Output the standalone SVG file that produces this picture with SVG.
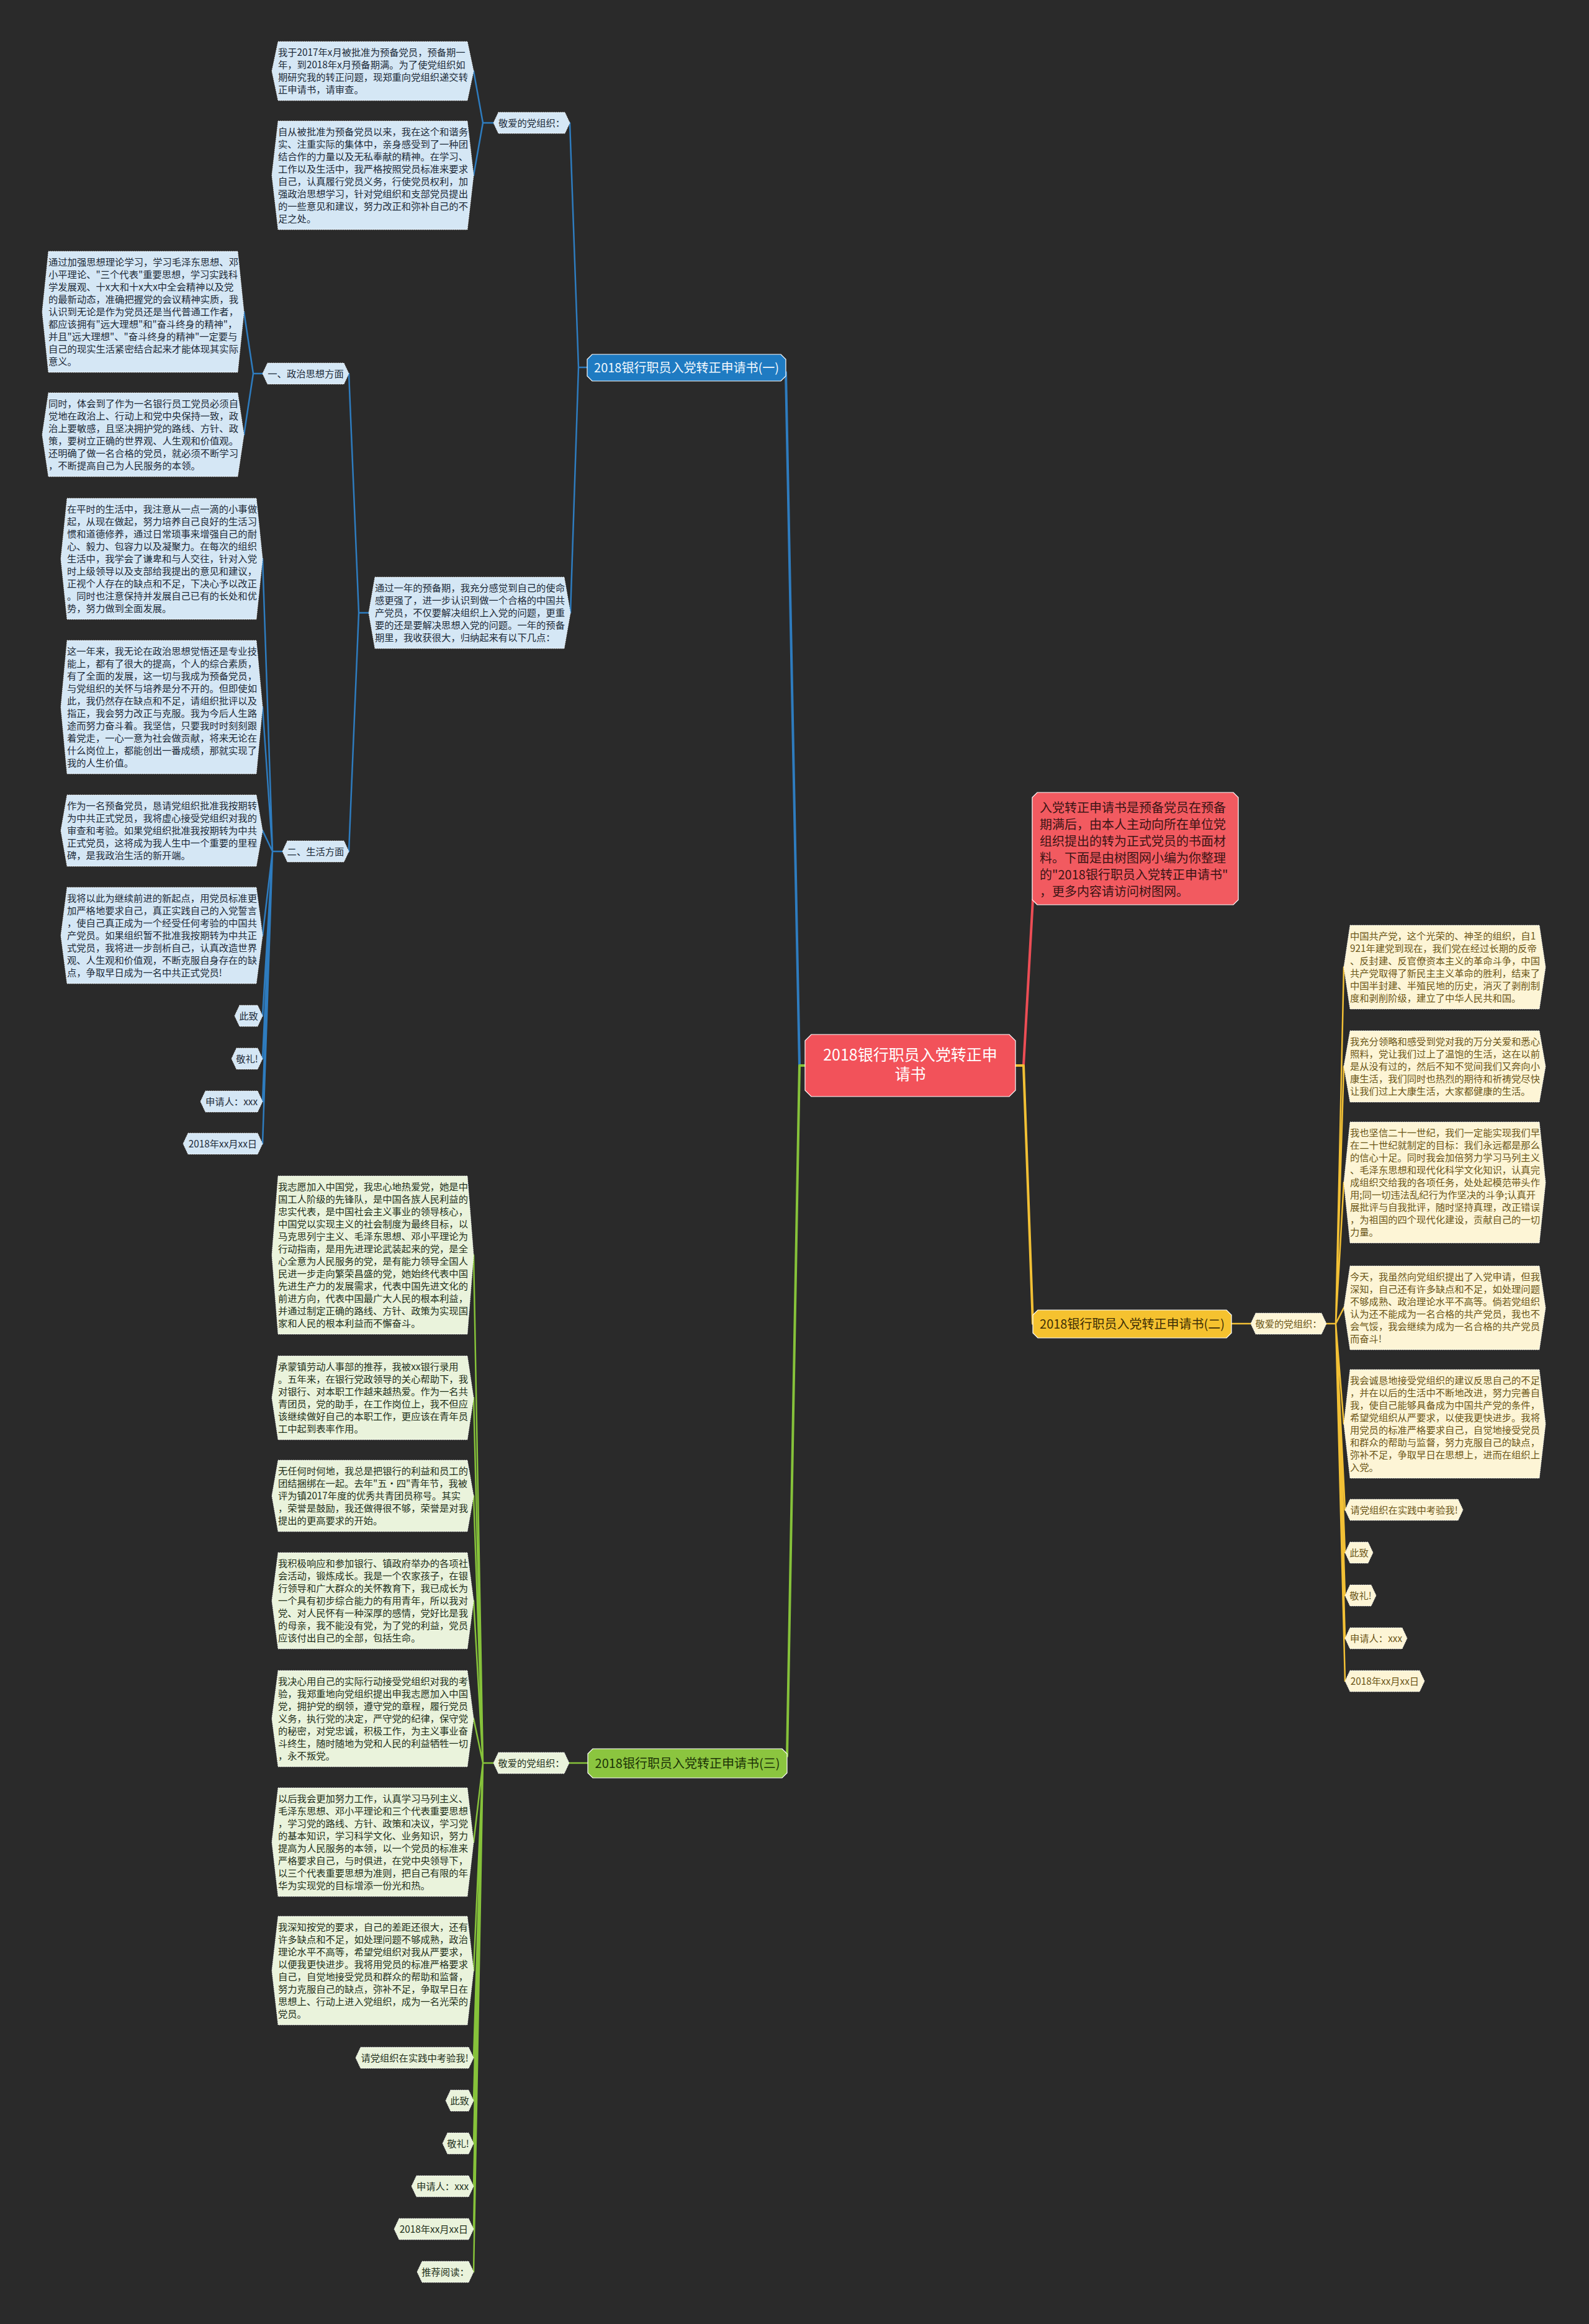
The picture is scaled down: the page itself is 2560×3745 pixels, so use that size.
<svg xmlns="http://www.w3.org/2000/svg" width="2560" height="3745" viewBox="0 0 2560 3745">
<style>
text{font-family:"Noto Sans CJK SC","Noto Sans",sans-serif;}
.t{font-size:15.3px;}
.c{text-anchor:middle;}
.nb{fill:#d5e7f5;stroke:#ffffff;stroke-width:1;stroke-dasharray:1.5 1.5;}
.ny{fill:#fdf5d6;stroke:#ffffff;stroke-width:1;stroke-dasharray:1.5 1.5;}
.ng{fill:#eaf3dc;stroke:#ffffff;stroke-width:1;stroke-dasharray:1.5 1.5;}
.tb{fill:#1c2a38;}
.ty{fill:#6b5516;}
.tg{fill:#22301a;}
.cb,.cy,.cg,.cr{fill:none;stroke-width:2.5;stroke-linejoin:round;stroke-linecap:round;}
.cb{stroke:#2e7cbf;}
.cy{stroke:#f2c035;}
.cg{stroke:#86c23a;}
.cr{stroke:#ec4d55;}
.main{stroke-width:4;}
.br{stroke:#ffffff;stroke-width:1.2;}
</style>
<rect x="0" y="0" width="2560" height="3745" fill="#2a2a2a"/>

<g id="connectors">
<path class="cb main" d="M1297,1717 L1288,1717 L1266,600"/>
<path class="cg main" d="M1297,1717 L1288,1717 L1268,2830"/>
<path class="cr main" d="M1636,1717 L1649,1717 L1664,1450"/>
<path class="cy main" d="M1636,1717 L1649,1717 L1664,2133"/>

<path class="cb" d="M946,592 L932,592 L918,198 M932,592 L919,987.5"/>
<path class="cb" d="M795,198 L778,198 L763,114.5 M778,198 L763,282.5"/>
<path class="cb" d="M594,987.5 L578,987.5 L562,602 M578,987.5 L562,1372"/>
<path class="cb" d="M423,602 L408,602 L393,502.5 M408,602 L393,700.5"/>
<path class="cb" d="M455,1372 L439,1372 L423,900.5 M439,1372 L423,1139.5 M439,1372 L423,1338.5 M439,1372 L423,1507.5 M439,1372 L423,1637 M439,1372 L423,1706 M439,1372 L423,1775 M439,1372 L423,1843"/>

<path class="cy" d="M1984,2133 L2015,2133"/>
<path class="cy" d="M2137,2133 L2152,2133 L2165,1558.5 M2152,2133 L2165,1718.5 M2152,2133 L2165,1905.5 M2152,2133 L2165,2107.5 M2152,2133 L2165,2294.5 M2152,2133 L2167,2433 M2152,2133 L2167,2502 M2152,2133 L2167,2571 M2152,2133 L2167,2640 M2152,2133 L2167,2709"/>

<path class="cg" d="M947,2841 L917,2841"/>
<path class="cg" d="M795,2841 L778,2841 L763,2022.5 M778,2841 L763,2252.5 M778,2841 L763,2410.5 M778,2841 L763,2579.5 M778,2841 L763,2769.5 M778,2841 L763,2968.5 M778,2841 L763,3175.5 M778,2841 L763,3316 M778,2841 L763,3385 M778,2841 L763,3454 M778,2841 L763,3523 M778,2841 L763,3592 M778,2841 L763,3661"/>
</g>

<g id="n-root">
<polygon points="1307,1667 1626,1667 1636,1677 1636,1757 1626,1767 1307,1767 1297,1757 1297,1677" fill="#f2525a" class="br"/>
<text x="1466.5" y="1709" class="c" font-size="25" fill="#ffffff">2018银行职员入党转正申</text>
<text x="1466.5" y="1740" class="c" font-size="25" fill="#ffffff">请书</text>
</g>

<g id="n-intro">
<polygon points="1671,1277 1987,1277 1995,1285 1995,1450 1987,1458 1671,1458 1663,1450 1663,1285" fill="#f25a60" class="br"/>
<text font-size="20" fill="#3b1414">
<tspan x="1675" y="1309">入党转正申请书是预备党员在预备</tspan>
<tspan x="1675" y="1336">期满后，由本人主动向所在单位党</tspan>
<tspan x="1675" y="1363">组织提出的转为正式党员的书面材</tspan>
<tspan x="1675" y="1390">料。下面是由树图网小编为你整理</tspan>
<tspan x="1675" y="1417">的"2018银行职员入党转正申请书"</tspan>
<tspan x="1675" y="1444">，更多内容请访问树图网。</tspan>
</text>
</g>

<g id="n-b1">
<polygon points="954,571 1258,571 1266,579 1266,606 1258,614 954,614 946,606 946,579" fill="#1f7bc2" class="br"/>
<text x="1106" y="599.5" class="c" font-size="20" fill="#f2f8fd">2018银行职员入党转正申请书(一)</text>
</g>
<g id="n-b2">
<polygon points="1672,2111 1976,2111 1984,2119 1984,2148 1976,2156 1672,2156 1664,2148 1664,2119" fill="#f5c22f" class="br"/>
<text x="1824" y="2140.5" class="c" font-size="20" fill="#3d2e06">2018银行职员入党转正申请书(二)</text>
</g>
<g id="n-b3">
<polygon points="955,2818 1260,2818 1268,2826 1268,2857 1260,2865 955,2865 947,2857 947,2826" fill="#8bc53f" class="br"/>
<text x="1107.5" y="2848.5" class="c" font-size="20" fill="#1c3306">2018银行职员入党转正申请书(三)</text>
</g>

<!-- Branch 1 -->
<g id="n-b1-dear">
<polygon class="nb" points="803,181 910,181 918,198 910,215 803,215 795,198"/>
<text x="856.5" y="203.5" class="t c tb">敬爱的党组织：</text>
</g>
<g id="n-t1">
<polygon class="nb" points="448,67 753,67 763,114.5 753,162 448,162 438,114.5"/>
<text class="t tb">
<tspan x="448" y="90">我于2017年x月被批准为预备党员，预备期一</tspan>
<tspan x="448" y="110">年，到2018年x月预备期满。为了使党组织如</tspan>
<tspan x="448" y="130">期研究我的转正问题，现郑重向党组织递交转</tspan>
<tspan x="448" y="150">正申请书，请审查。</tspan>
</text>
</g>
<g id="n-t2">
<polygon class="nb" points="448,195 753,195 763,282.5 753,370 448,370 438,282.5"/>
<text class="t tb">
<tspan x="448" y="218">自从被批准为预备党员以来，我在这个和谐务</tspan>
<tspan x="448" y="238">实、注重实际的集体中，亲身感受到了一种团</tspan>
<tspan x="448" y="258">结合作的力量以及无私奉献的精神。在学习、</tspan>
<tspan x="448" y="278">工作以及生活中，我严格按照党员标准来要求</tspan>
<tspan x="448" y="298">自己，认真履行党员义务，行使党员权利，加</tspan>
<tspan x="448" y="318">强政治思想学习，针对党组织和支部党员提出</tspan>
<tspan x="448" y="338">的一些意见和建议，努力改正和弥补自己的不</tspan>
<tspan x="448" y="358">足之处。</tspan>
</text>
</g>
<g id="n-b0">
<polygon class="nb" points="604,930 909,930 919,987.5 909,1045 604,1045 594,987.5"/>
<text class="t tb">
<tspan x="604" y="953">通过一年的预备期，我充分感觉到自己的使命</tspan>
<tspan x="604" y="973">感更强了，进一步认识到做一个合格的中国共</tspan>
<tspan x="604" y="993">产党员，不仅要解决组织上入党的问题，更重</tspan>
<tspan x="604" y="1013">要的还是要解决思想入党的问题。一年的预备</tspan>
<tspan x="604" y="1033">期里，我收获很大，归纳起来有以下几点：</tspan>
</text>
</g>
<g id="n-pol">
<polygon class="nb" points="431,585 554,585 562,602 554,619 431,619 423,602"/>
<text x="492.5" y="607.5" class="t c tb">一、政治思想方面</text>
</g>
<g id="n-p1">
<polygon class="nb" points="78,405 383,405 393,502.5 383,600 78,600 68,502.5"/>
<text class="t tb">
<tspan x="78" y="428">通过加强思想理论学习，学习毛泽东思想、邓</tspan>
<tspan x="78" y="448">小平理论、"三个代表"重要思想，学习实践科</tspan>
<tspan x="78" y="468">学发展观、十x大和十x大x中全会精神以及党</tspan>
<tspan x="78" y="488">的最新动态，准确把握党的会议精神实质，我</tspan>
<tspan x="78" y="508">认识到无论是作为党员还是当代普通工作者，</tspan>
<tspan x="78" y="528">都应该拥有"远大理想"和"奋斗终身的精神"，</tspan>
<tspan x="78" y="548">并且"远大理想"、"奋斗终身的精神"一定要与</tspan>
<tspan x="78" y="568">自己的现实生活紧密结合起来才能体现其实际</tspan>
<tspan x="78" y="588">意义。</tspan>
</text>
</g>
<g id="n-p2">
<polygon class="nb" points="78,633 383,633 393,700.5 383,768 78,768 68,700.5"/>
<text class="t tb">
<tspan x="78" y="656">同时，体会到了作为一名银行员工党员必须自</tspan>
<tspan x="78" y="676">觉地在政治上、行动上和党中央保持一致，政</tspan>
<tspan x="78" y="696">治上要敏感，且坚决拥护党的路线、方针、政</tspan>
<tspan x="78" y="716">策，要树立正确的世界观、人生观和价值观。</tspan>
<tspan x="78" y="736">还明确了做一名合格的党员，就必须不断学习</tspan>
<tspan x="78" y="756">，不断提高自己为人民服务的本领。</tspan>
</text>
</g>
<g id="n-life">
<polygon class="nb" points="463,1355 554,1355 562,1372 554,1389 463,1389 455,1372"/>
<text x="508.5" y="1377.5" class="t c tb">二、生活方面</text>
</g>
<g id="n-l1">
<polygon class="nb" points="108,803 413,803 423,900.5 413,998 108,998 98,900.5"/>
<text class="t tb">
<tspan x="108" y="826">在平时的生活中，我注意从一点一滴的小事做</tspan>
<tspan x="108" y="846">起，从现在做起，努力培养自己良好的生活习</tspan>
<tspan x="108" y="866">惯和道德修养，通过日常琐事来增强自己的耐</tspan>
<tspan x="108" y="886">心、毅力、包容力以及凝聚力。在每次的组织</tspan>
<tspan x="108" y="906">生活中，我学会了谦卑和与人交往，针对入党</tspan>
<tspan x="108" y="926">时上级领导以及支部给我提出的意见和建议，</tspan>
<tspan x="108" y="946">正视个人存在的缺点和不足，下决心予以改正</tspan>
<tspan x="108" y="966">。同时也注意保持并发展自己已有的长处和优</tspan>
<tspan x="108" y="986">势，努力做到全面发展。</tspan>
</text>
</g>
<g id="n-l2">
<polygon class="nb" points="108,1032 413,1032 423,1139.5 413,1247 108,1247 98,1139.5"/>
<text class="t tb">
<tspan x="108" y="1055">这一年来，我无论在政治思想觉悟还是专业技</tspan>
<tspan x="108" y="1075">能上，都有了很大的提高，个人的综合素质，</tspan>
<tspan x="108" y="1095">有了全面的发展，这一切与我成为预备党员，</tspan>
<tspan x="108" y="1115">与党组织的关怀与培养是分不开的。但即使如</tspan>
<tspan x="108" y="1135">此，我仍然存在缺点和不足，请组织批评以及</tspan>
<tspan x="108" y="1155">指正，我会努力改正与克服。我为今后人生路</tspan>
<tspan x="108" y="1175">途而努力奋斗着。我坚信，只要我时时刻刻跟</tspan>
<tspan x="108" y="1195">着党走，一心一意为社会做贡献，将来无论在</tspan>
<tspan x="108" y="1215">什么岗位上，都能创出一番成绩，那就实现了</tspan>
<tspan x="108" y="1235">我的人生价值。</tspan>
</text>
</g>
<g id="n-l3">
<polygon class="nb" points="108,1281 413,1281 423,1338.5 413,1396 108,1396 98,1338.5"/>
<text class="t tb">
<tspan x="108" y="1304">作为一名预备党员，恳请党组织批准我按期转</tspan>
<tspan x="108" y="1324">为中共正式党员，我将虚心接受党组织对我的</tspan>
<tspan x="108" y="1344">审查和考验。如果党组织批准我按期转为中共</tspan>
<tspan x="108" y="1364">正式党员，这将成为我人生中一个重要的里程</tspan>
<tspan x="108" y="1384">碑，是我政治生活的新开端。</tspan>
</text>
</g>
<g id="n-l4">
<polygon class="nb" points="108,1430 413,1430 423,1507.5 413,1585 108,1585 98,1507.5"/>
<text class="t tb">
<tspan x="108" y="1453">我将以此为继续前进的新起点，用党员标准更</tspan>
<tspan x="108" y="1473">加严格地要求自己，真正实践自己的入党誓言</tspan>
<tspan x="108" y="1493">，使自己真正成为一个经受任何考验的中国共</tspan>
<tspan x="108" y="1513">产党员。如果组织暂不批准我按期转为中共正</tspan>
<tspan x="108" y="1533">式党员，我将进一步剖析自己，认真改造世界</tspan>
<tspan x="108" y="1553">观、人生观和价值观，不断克服自身存在的缺</tspan>
<tspan x="108" y="1573">点，争取早日成为一名中共正式党员!</tspan>
</text>
</g>
<g id="n-b1-zz">
<polygon class="nb" points="386,1620 415,1620 423,1637 415,1654 386,1654 378,1637"/>
<text x="400.5" y="1642.5" class="t c tb">此致</text>
</g>
<g id="n-b1-jl">
<polygon class="nb" points="381,1689 415,1689 423,1706 415,1723 381,1723 373,1706"/>
<text x="398" y="1711.5" class="t c tb">敬礼!</text>
</g>
<g id="n-b1-sq">
<polygon class="nb" points="331,1758 415,1758 423,1775 415,1792 331,1792 323,1775"/>
<text x="373" y="1780.5" class="t c tb">申请人：xxx</text>
</g>
<g id="n-b1-dt">
<polygon class="nb" points="303,1826 415,1826 423,1843 415,1860 303,1860 295,1843"/>
<text x="359" y="1848.5" class="t c tb">2018年xx月xx日</text>
</g>

<!-- Branch 2 -->
<g id="n-b2-dear">
<polygon class="ny" points="2023,2116 2129,2116 2137,2133 2129,2150 2023,2150 2015,2133"/>
<text x="2076" y="2138.5" class="t c ty">敬爱的党组织：</text>
</g>
<g id="n-r1">
<polygon class="ny" points="2175,1491 2480,1491 2490,1558.5 2480,1626 2175,1626 2165,1558.5"/>
<text class="t ty">
<tspan x="2175" y="1514">中国共产党，这个光荣的、神圣的组织，自1</tspan>
<tspan x="2175" y="1534">921年建党到现在，我们党在经过长期的反帝</tspan>
<tspan x="2175" y="1554">、反封建、反官僚资本主义的革命斗争，中国</tspan>
<tspan x="2175" y="1574">共产党取得了新民主主义革命的胜利，结束了</tspan>
<tspan x="2175" y="1594">中国半封建、半殖民地的历史，消灭了剥削制</tspan>
<tspan x="2175" y="1614">度和剥削阶级，建立了中华人民共和国。</tspan>
</text>
</g>
<g id="n-r2">
<polygon class="ny" points="2175,1661 2480,1661 2490,1718.5 2480,1776 2175,1776 2165,1718.5"/>
<text class="t ty">
<tspan x="2175" y="1684">我充分领略和感受到党对我的万分关爱和悉心</tspan>
<tspan x="2175" y="1704">照料，党让我们过上了温饱的生活，这在以前</tspan>
<tspan x="2175" y="1724">是从没有过的，然后不知不觉间我们又奔向小</tspan>
<tspan x="2175" y="1744">康生活，我们同时也热烈的期待和祈祷党尽快</tspan>
<tspan x="2175" y="1764">让我们过上大康生活，大家都健康的生活。</tspan>
</text>
</g>
<g id="n-r3">
<polygon class="ny" points="2175,1808 2480,1808 2490,1905.5 2480,2003 2175,2003 2165,1905.5"/>
<text class="t ty">
<tspan x="2175" y="1831">我也坚信二十一世纪，我们一定能实现我们早</tspan>
<tspan x="2175" y="1851">在二十世纪就制定的目标：我们永远都是那么</tspan>
<tspan x="2175" y="1871">的信心十足。同时我会加倍努力学习马列主义</tspan>
<tspan x="2175" y="1891">、毛泽东思想和现代化科学文化知识，认真完</tspan>
<tspan x="2175" y="1911">成组织交给我的各项任务，处处起模范带头作</tspan>
<tspan x="2175" y="1931">用;同一切违法乱纪行为作坚决的斗争;认真开</tspan>
<tspan x="2175" y="1951">展批评与自我批评，随时坚持真理，改正错误</tspan>
<tspan x="2175" y="1971">，为祖国的四个现代化建设，贡献自己的一切</tspan>
<tspan x="2175" y="1991">力量。</tspan>
</text>
</g>
<g id="n-r4">
<polygon class="ny" points="2175,2040 2480,2040 2490,2107.5 2480,2175 2175,2175 2165,2107.5"/>
<text class="t ty">
<tspan x="2175" y="2063">今天，我虽然向党组织提出了入党申请，但我</tspan>
<tspan x="2175" y="2083">深知，自己还有许多缺点和不足，如处理问题</tspan>
<tspan x="2175" y="2103">不够成熟、政治理论水平不高等。倘若党组织</tspan>
<tspan x="2175" y="2123">认为还不能成为一名合格的共产党员，我也不</tspan>
<tspan x="2175" y="2143">会气馁，我会继续为成为一名合格的共产党员</tspan>
<tspan x="2175" y="2163">而奋斗!</tspan>
</text>
</g>
<g id="n-r5">
<polygon class="ny" points="2175,2207 2480,2207 2490,2294.5 2480,2382 2175,2382 2165,2294.5"/>
<text class="t ty">
<tspan x="2175" y="2230">我会诚恳地接受党组织的建议反思自己的不足</tspan>
<tspan x="2175" y="2250">，并在以后的生活中不断地改进，努力完善自</tspan>
<tspan x="2175" y="2270">我，使自己能够具备成为中国共产党的条件，</tspan>
<tspan x="2175" y="2290">希望党组织从严要求，以使我更快进步。我将</tspan>
<tspan x="2175" y="2310">用党员的标准严格要求自己，自觉地接受党员</tspan>
<tspan x="2175" y="2330">和群众的帮助与监督，努力克服自己的缺点，</tspan>
<tspan x="2175" y="2350">弥补不足，争取早日在思想上，进而在组织上</tspan>
<tspan x="2175" y="2370">入党。</tspan>
</text>
</g>
<g id="n-b2-kq">
<polygon class="ny" points="2175,2416 2349,2416 2357,2433 2349,2450 2175,2450 2167,2433"/>
<text x="2262" y="2438.5" class="t c ty">请党组织在实践中考验我!</text>
</g>
<g id="n-b2-zz">
<polygon class="ny" points="2175,2485 2204,2485 2212,2502 2204,2519 2175,2519 2167,2502"/>
<text x="2189.5" y="2507.5" class="t c ty">此致</text>
</g>
<g id="n-b2-jl">
<polygon class="ny" points="2175,2554 2209,2554 2217,2571 2209,2588 2175,2588 2167,2571"/>
<text x="2192" y="2576.5" class="t c ty">敬礼!</text>
</g>
<g id="n-b2-sq">
<polygon class="ny" points="2175,2623 2259,2623 2267,2640 2259,2657 2175,2657 2167,2640"/>
<text x="2217" y="2645.5" class="t c ty">申请人：xxx</text>
</g>
<g id="n-b2-dt">
<polygon class="ny" points="2175,2692 2287,2692 2295,2709 2287,2726 2175,2726 2167,2709"/>
<text x="2231" y="2714.5" class="t c ty">2018年xx月xx日</text>
</g>

<!-- Branch 3 -->
<g id="n-b3-dear">
<polygon class="ng" points="803,2824 909,2824 917,2841 909,2858 803,2858 795,2841"/>
<text x="856" y="2846.5" class="t c tg">敬爱的党组织：</text>
</g>
<g id="n-g1">
<polygon class="ng" points="448,1895 753,1895 763,2022.5 753,2150 448,2150 438,2022.5"/>
<text class="t tg">
<tspan x="448" y="1918">我志愿加入中国党，我忠心地热爱党，她是中</tspan>
<tspan x="448" y="1938">国工人阶级的先锋队，是中国各族人民利益的</tspan>
<tspan x="448" y="1958">忠实代表，是中国社会主义事业的领导核心，</tspan>
<tspan x="448" y="1978">中国党以实现主义的社会制度为最终目标，以</tspan>
<tspan x="448" y="1998">马克思列宁主义、毛泽东思想、邓小平理论为</tspan>
<tspan x="448" y="2018">行动指南，是用先进理论武装起来的党，是全</tspan>
<tspan x="448" y="2038">心全意为人民服务的党，是有能力领导全国人</tspan>
<tspan x="448" y="2058">民进一步走向繁荣昌盛的党，她始终代表中国</tspan>
<tspan x="448" y="2078">先进生产力的发展需求，代表中国先进文化的</tspan>
<tspan x="448" y="2098">前进方向，代表中国最广大人民的根本利益，</tspan>
<tspan x="448" y="2118">并通过制定正确的路线、方针、政策为实现国</tspan>
<tspan x="448" y="2138">家和人民的根本利益而不懈奋斗。</tspan>
</text>
</g>
<g id="n-g2">
<polygon class="ng" points="448,2185 753,2185 763,2252.5 753,2320 448,2320 438,2252.5"/>
<text class="t tg">
<tspan x="448" y="2208">承蒙镇劳动人事部的推荐，我被xx银行录用</tspan>
<tspan x="448" y="2228">。五年来，在银行党政领导的关心帮助下，我</tspan>
<tspan x="448" y="2248">对银行、对本职工作越来越热爱。作为一名共</tspan>
<tspan x="448" y="2268">青团员，党的助手，在工作岗位上，我不但应</tspan>
<tspan x="448" y="2288">该继续做好自己的本职工作，更应该在青年员</tspan>
<tspan x="448" y="2308">工中起到表率作用。</tspan>
</text>
</g>
<g id="n-g3">
<polygon class="ng" points="448,2353 753,2353 763,2410.5 753,2468 448,2468 438,2410.5"/>
<text class="t tg">
<tspan x="448" y="2376">无任何时何地，我总是把银行的利益和员工的</tspan>
<tspan x="448" y="2396">团结捆绑在一起。去年"五·四"青年节，我被</tspan>
<tspan x="448" y="2416">评为镇2017年度的优秀共青团员称号。其实</tspan>
<tspan x="448" y="2436">，荣誉是鼓励，我还做得很不够，荣誉是对我</tspan>
<tspan x="448" y="2456">提出的更高要求的开始。</tspan>
</text>
</g>
<g id="n-g4">
<polygon class="ng" points="448,2502 753,2502 763,2579.5 753,2657 448,2657 438,2579.5"/>
<text class="t tg">
<tspan x="448" y="2525">我积极响应和参加银行、镇政府举办的各项社</tspan>
<tspan x="448" y="2545">会活动，锻炼成长。我是一个农家孩子，在银</tspan>
<tspan x="448" y="2565">行领导和广大群众的关怀教育下，我已成长为</tspan>
<tspan x="448" y="2585">一个具有初步综合能力的有用青年，所以我对</tspan>
<tspan x="448" y="2605">党、对人民怀有一种深厚的感情，党好比是我</tspan>
<tspan x="448" y="2625">的母亲，我不能没有党，为了党的利益，党员</tspan>
<tspan x="448" y="2645">应该付出自己的全部，包括生命。</tspan>
</text>
</g>
<g id="n-g5">
<polygon class="ng" points="448,2692 753,2692 763,2769.5 753,2847 448,2847 438,2769.5"/>
<text class="t tg">
<tspan x="448" y="2715">我决心用自己的实际行动接受党组织对我的考</tspan>
<tspan x="448" y="2735">验，我郑重地向党组织提出申我志愿加入中国</tspan>
<tspan x="448" y="2755">党，拥护党的纲领，遵守党的章程，履行党员</tspan>
<tspan x="448" y="2775">义务，执行党的决定，严守党的纪律，保守党</tspan>
<tspan x="448" y="2795">的秘密，对党忠诚，积极工作，为主义事业奋</tspan>
<tspan x="448" y="2815">斗终生，随时随地为党和人民的利益牺牲一切</tspan>
<tspan x="448" y="2835">，永不叛党。</tspan>
</text>
</g>
<g id="n-g6">
<polygon class="ng" points="448,2881 753,2881 763,2968.5 753,3056 448,3056 438,2968.5"/>
<text class="t tg">
<tspan x="448" y="2904">以后我会更加努力工作，认真学习马列主义、</tspan>
<tspan x="448" y="2924">毛泽东思想、邓小平理论和三个代表重要思想</tspan>
<tspan x="448" y="2944">，学习党的路线、方针、政策和决议，学习党</tspan>
<tspan x="448" y="2964">的基本知识，学习科学文化、业务知识，努力</tspan>
<tspan x="448" y="2984">提高为人民服务的本领，以一个党员的标准来</tspan>
<tspan x="448" y="3004">严格要求自己，与时俱进，在党中央领导下，</tspan>
<tspan x="448" y="3024">以三个代表重要思想为准则，把自己有限的年</tspan>
<tspan x="448" y="3044">华为实现党的目标增添一份光和热。</tspan>
</text>
</g>
<g id="n-g7">
<polygon class="ng" points="448,3088 753,3088 763,3175.5 753,3263 448,3263 438,3175.5"/>
<text class="t tg">
<tspan x="448" y="3111">我深知按党的要求，自己的差距还很大，还有</tspan>
<tspan x="448" y="3131">许多缺点和不足，如处理问题不够成熟，政治</tspan>
<tspan x="448" y="3151">理论水平不高等，希望党组织对我从严要求，</tspan>
<tspan x="448" y="3171">以便我更快进步。我将用党员的标准严格要求</tspan>
<tspan x="448" y="3191">自己，自觉地接受党员和群众的帮助和监督，</tspan>
<tspan x="448" y="3211">努力克服自己的缺点，弥补不足，争取早日在</tspan>
<tspan x="448" y="3231">思想上、行动上进入党组织，成为一名光荣的</tspan>
<tspan x="448" y="3251">党员。</tspan>
</text>
</g>
<g id="n-b3-kq">
<polygon class="ng" points="581,3299 755,3299 763,3316 755,3333 581,3333 573,3316"/>
<text x="668" y="3321.5" class="t c tg">请党组织在实践中考验我!</text>
</g>
<g id="n-b3-zz">
<polygon class="ng" points="726,3368 755,3368 763,3385 755,3402 726,3402 718,3385"/>
<text x="740.5" y="3390.5" class="t c tg">此致</text>
</g>
<g id="n-b3-jl">
<polygon class="ng" points="721,3437 755,3437 763,3454 755,3471 721,3471 713,3454"/>
<text x="738" y="3459.5" class="t c tg">敬礼!</text>
</g>
<g id="n-b3-sq">
<polygon class="ng" points="671,3506 755,3506 763,3523 755,3540 671,3540 663,3523"/>
<text x="713" y="3528.5" class="t c tg">申请人：xxx</text>
</g>
<g id="n-b3-dt">
<polygon class="ng" points="643,3575 755,3575 763,3592 755,3609 643,3609 635,3592"/>
<text x="699" y="3597.5" class="t c tg">2018年xx月xx日</text>
</g>
<g id="n-b3-tj">
<polygon class="ng" points="680,3644 755,3644 763,3661 755,3678 680,3678 672,3661"/>
<text x="717.5" y="3666.5" class="t c tg">推荐阅读：</text>
</g>
</svg>
